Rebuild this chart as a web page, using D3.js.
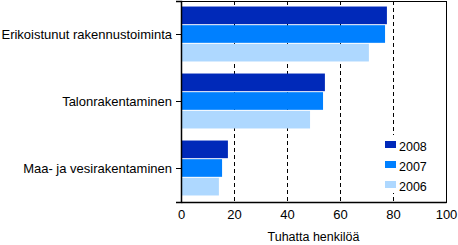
<!DOCTYPE html>
<html>
<head>
<meta charset="utf-8">
<script src="https://cdn.jsdelivr.net/npm/d3@7"></script>
<style>
  body { margin: 0; background: #fff; }
  svg { display: block; font-family: "Liberation Sans", Arial, sans-serif; }
</style>
</head>
<body>
<script>
const categories = ['Erikoistunut rakennustoiminta', 'Talonrakentaminen', 'Maa- ja vesirakentaminen']
const years = ['2008', '2007', '2006']
const values2008 = [77.7, 54.3, 17.7]
const values2007 = [77.0, 53.6, 15.5]
const values2006 = [70.9, 48.7, 14.3]
const xTicks = [0, 20, 40, 60, 80, 100]
const xTitle = 'Tuhatta henkilöä'

const colors = { '2008': '#0029b9', '2007': '#0080ff', '2006': '#aed8ff' }
const series = { '2008': values2008, '2007': values2007, '2006': values2006 }

const width = 458
const height = 245
const margin = { top: 1, right: 12, bottom: 43, left: 181 }
const w = width - margin.left - margin.right
const h = height - margin.top - margin.bottom

const svg = d3.select('body').append('svg')
  .attr('width', width)
  .attr('height', height)

const g = svg.append('g').attr('transform', `translate(${margin.left},${margin.top})`)

const x = d3.scaleLinear().domain([0, 100]).range([0, w])
const y = d3.scaleBand().domain(categories).range([0, h]).paddingInner(0.165).paddingOuter(0.0825)
const yInner = d3.scaleBand().domain(years).range([0, y.bandwidth()])

// dashed gridlines
g.selectAll('line.grid')
  .data(xTicks.filter(d => d > 0 && d < 100))
  .join('line')
  .attr('class', 'grid')
  .attr('x1', d => x(d) + 0.5)
  .attr('x2', d => x(d) + 0.5)
  .attr('y1', 0)
  .attr('y2', h)
  .attr('stroke', '#000')
  .attr('stroke-dasharray', '4,3')

// bars
categories.forEach((c, i) => {
  years.forEach(yr => {
    g.append('rect')
      .attr('x', x(0))
      .attr('y', y(c) + yInner(yr))
      .attr('width', x(series[yr][i]) - x(0))
      .attr('height', yInner.bandwidth() - 1)
      .attr('fill', colors[yr])
  })
})

// legend (white box over gridline)
const lx = x(74.5)
const legend = g.append('g').attr('transform', `translate(${lx},${134})`)
legend.append('rect')
  .attr('x', 0).attr('y', 0)
  .attr('width', w - lx - 1).attr('height', 58)
  .attr('fill', '#fff')
years.forEach((yr, i) => {
  legend.append('rect')
    .attr('x', 204 - lx).attr('y', 6 + i * 20)
    .attr('width', 11).attr('height', 7)
    .attr('fill', colors[yr])
  legend.append('text')
    .attr('x', 218 - lx).attr('y', 15.5 + i * 20)
    .attr('font-size', 12.5)
    .text(yr)
})

// frame
g.append('rect')
  .attr('x', 0.5).attr('y', 0.5)
  .attr('width', w).attr('height', h)
  .attr('fill', 'none')
  .attr('stroke', '#000')

// y axis
const yAxis = g.append('g')
  .call(d3.axisLeft(y).tickSize(5).tickPadding(4))
yAxis.select('.domain').attr('stroke-width', 1.5)
yAxis.selectAll('text').attr('font-size', 13).attr('fill', '#000')
  .attr('font-family', '"Liberation Sans", Arial, sans-serif')

// x axis
const xAxis = g.append('g')
  .attr('transform', `translate(0,${h})`)
  .call(d3.axisBottom(x).tickValues(xTicks).tickSize(0).tickPadding(8))
xAxis.select('.domain').attr('stroke-width', 1.5)
xAxis.selectAll('text').attr('font-size', 13).attr('fill', '#000')
  .attr('font-family', '"Liberation Sans", Arial, sans-serif')

svg.append('text')
  .attr('x', margin.left + w / 2)
  .attr('y', 241)
  .attr('text-anchor', 'middle')
  .attr('font-size', 12.5)
  .text(xTitle)
</script>
</body>
</html>
